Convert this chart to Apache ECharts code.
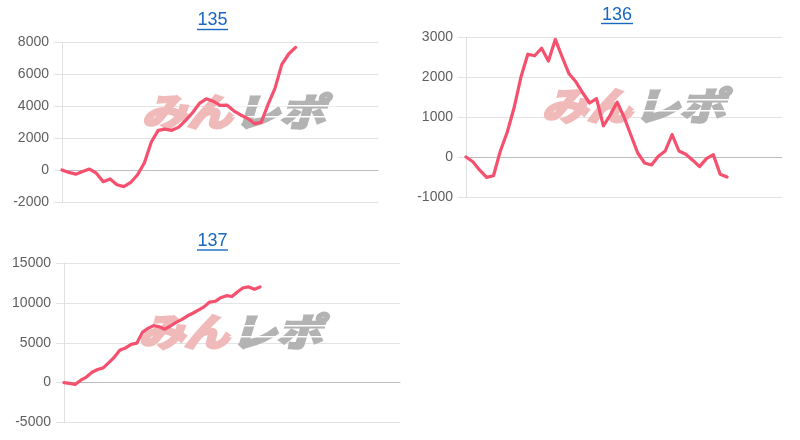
<!DOCTYPE html>
<html><head><meta charset="utf-8">
<script src="https://cdn.jsdelivr.net/npm/echarts@6/dist/echarts.min.js"></script>
<style>html,body{margin:0;padding:0;background:#fff}#c{width:800px;height:440px}</style>
</head><body><div id="c"></div>
<script>
// ---- data ----
const titles = ['135', '136', '137'];
const values135 = [0,-150,-260,-100,60,-200,-730,-560,-920,-1040,-780,-300,450,1750,2480,2550,2480,2680,3100,3580,4160,4450,4300,4040,4060,3700,3440,3230,2900,2980,4100,5100,6600,7250,7660];
const values136 = [0,-120,-330,-510,-470,150,620,1230,2000,2570,2530,2720,2400,2940,2500,2080,1880,1600,1350,1460,780,1050,1370,1000,550,100,-150,-200,20,150,560,150,70,-80,-240,-40,60,-430,-500];
const values137 = [0,-100,-220,300,700,1300,1650,1850,2500,3200,4100,4350,4800,4950,6300,6800,7150,7000,6700,7100,7550,7900,8350,8700,9100,9500,10100,10200,10650,10900,10800,11400,11900,12000,11700,12000];
const yRange135 = [-2000, 8000, 2000];
const yRange136 = [-1000, 3000, 1000];
const yRange137 = [-5000, 15000, 5000];
const catCount = [47, 47, 61];
const logoWords = ['みん', 'レポ'];

// ---- layout / style ----
const grids = [
  {left: 62, top: 42, width: 316, height: 160},
  {left: 466, top: 37, width: 316, height: 160},
  {left: 64, top: 263, width: 336, height: 159.5}
];
const titlePos = [[212.5, 20.5, 197, 228, 29.5], [617, 15, 601, 633, 23.5], [212.5, 241.5, 197, 228, 250]];
const logoPos = [[139, 112], [539, 106], [136, 332]];
const LINE = '#f5506e';
const TITLE = '#1967c0';
const FONT = '"Liberation Sans", Arial, sans-serif';

const cats = catCount.map(n => Array.from({length: n}, (_, i) => String(i + 1)));
const ranges = [yRange135, yRange136, yRange137];
const series = [values135, values136, values137];

function logo(p) {
  const base = {fontSize: 38, fontWeight: 'bold', fontStyle: 'italic', fontFamily: '"Noto Sans CJK JP"', align: 'left', verticalAlign: 'middle', lineWidth: 3, lineJoin: 'round'};
  return {
    type: 'group', x: p[0], y: p[1], scaleX: 1.2, z: 1,
    children: [
      {type: 'text', x: 2, y: 0, z: 1, style: Object.assign({text: logoWords[0], fill: '#f0baba', stroke: '#f0baba'}, base)},
      {type: 'text', x: 79, y: 0, z: 1, style: Object.assign({text: logoWords[1], fill: '#b3b3b3', stroke: '#b3b3b3'}, base)},
      {type: 'rect', z: 1, shape: {x: 78, y: -7, width: 86, height: 1.5}, style: {fill: '#fff'}},
      {type: 'rect', z: 1, shape: {x: 78, y: 4, width: 86, height: 1.5}, style: {fill: '#fff'}}
    ]
  };
}

const graphic = [];
titles.forEach((t, i) => {
  const p = titlePos[i];
  graphic.push({type: 'text', x: p[0], y: p[1], z: 5, style: {text: t, fill: TITLE, fontSize: 18, fontFamily: FONT, align: 'center', verticalAlign: 'middle'}});
  graphic.push({type: 'line', z: 5, shape: {x1: p[2], y1: p[4], x2: p[3], y2: p[4]}, style: {stroke: TITLE, lineWidth: 1.4}});
});
logoPos.forEach(p => graphic.push(logo(p)));

const option = {
  animation: false,
  backgroundColor: '#fff',
  grid: grids,
  xAxis: cats.map((c, i) => ({
    type: 'category', gridIndex: i, data: c, boundaryGap: false,
    axisLabel: {show: false}, axisTick: {show: false},
    axisLine: {show: true, onZero: true, lineStyle: {color: '#bcbcbc', width: 1}},
    splitLine: {show: false}
  })),
  yAxis: ranges.map((r, i) => ({
    type: 'value', gridIndex: i, min: r[0], max: r[1], interval: r[2],
    axisLabel: {color: '#5f5f5f', fontSize: 14, fontFamily: FONT, margin: 13, formatter: v => String(v)},
    axisLine: {show: true, lineStyle: {color: '#e0e0e0'}},
    axisTick: {show: true, length: 8, lineStyle: {color: '#e3e3e3'}},
    splitLine: {show: true, lineStyle: {color: '#e3e3e3'}}
  })),
  graphic: graphic,
  series: series.map((d, i) => ({
    type: 'line', xAxisIndex: i, yAxisIndex: i, data: d, z: 3,
    showSymbol: false, smooth: false,
    lineStyle: {color: LINE, width: 3.2, join: 'round', cap: 'round'}
  }))
};
echarts.init(document.getElementById('c')).setOption(option);
</script></body></html>
